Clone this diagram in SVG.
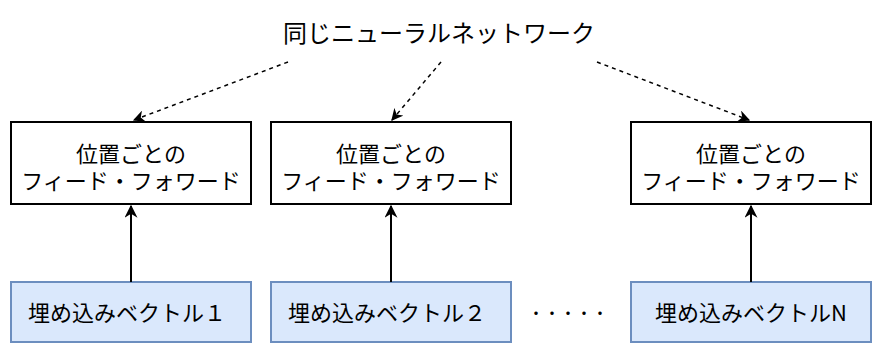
<svg xmlns="http://www.w3.org/2000/svg" width="884" height="358" viewBox="0 0 884 358">
<style>
text{font-family:"Noto Sans CJK JP","Noto Sans",sans-serif;font-size:22px;fill:#000;text-anchor:middle;dominant-baseline:central}
.t{font-size:24px}
.d{font-size:16px}
.ff{fill:#fff;stroke:#000;stroke-width:2}
.emb{fill:#dae8fc;stroke:#6c8ebf;stroke-width:2}
.solid{stroke:#000;stroke-width:2;fill:none}
.dash{stroke:#000;stroke-width:1.5;fill:none;stroke-dasharray:4 4}
</style>
<defs>
<marker id="ah" viewBox="0 0 10 10" refX="9" refY="5" markerWidth="6.5" markerHeight="6.5" orient="auto" markerUnits="strokeWidth">
<path d="M0,0 L10,5 L0,10 L3,5 z" fill="#000"/>
</marker>
<marker id="ahd" viewBox="0 0 10 10" refX="9" refY="5" markerWidth="8" markerHeight="8" orient="auto" markerUnits="strokeWidth">
<path d="M0,0 L10,5 L0,10 L3,5 z" fill="#000"/>
</marker>
</defs>
<g id="title"><text class="t" x="439" y="31">同じニューラルネットワーク</text></g>
<g id="ff1"><rect class="ff" x="11" y="122" width="240" height="82"/><text x="131" y="152"><tspan x="131" y="152">位置ごとの</tspan><tspan x="131" y="179">フィード・フォワード</tspan></text></g>
<g id="ff2"><rect class="ff" x="271" y="122" width="240" height="82"/><text x="391" y="152"><tspan x="391" y="152">位置ごとの</tspan><tspan x="391" y="179">フィード・フォワード</tspan></text></g>
<g id="ff3"><rect class="ff" x="631" y="122" width="240" height="82"/><text x="751" y="152"><tspan x="751" y="152">位置ごとの</tspan><tspan x="751" y="179">フィード・フォワード</tspan></text></g>
<g id="emb1"><rect class="emb" x="11" y="282" width="240" height="60"/><text x="127" y="311">埋め込みベクトル１</text></g>
<g id="emb2"><rect class="emb" x="271" y="282" width="240" height="60"/><text x="387" y="311">埋め込みベクトル２</text></g>
<g id="embN"><rect class="emb" x="631" y="282" width="240" height="60"/><text x="751" y="311">埋め込みベクトルN</text></g>
<g id="dots"><text class="d" x="568" y="312">・・・・・</text></g>
<g id="connectors">
<line class="solid" x1="131" y1="282" x2="131" y2="206" marker-end="url(#ah)"/>
<line class="solid" x1="391" y1="282" x2="391" y2="206" marker-end="url(#ah)"/>
<line class="solid" x1="751" y1="282" x2="751" y2="206" marker-end="url(#ah)"/>
<line class="dash" x1="288" y1="62" x2="134" y2="120" marker-end="url(#ahd)"/>
<line class="dash" x1="441" y1="62" x2="392" y2="120" marker-end="url(#ahd)"/>
<line class="dash" x1="597" y1="62" x2="749" y2="120" marker-end="url(#ahd)"/>
</g>
</svg>
